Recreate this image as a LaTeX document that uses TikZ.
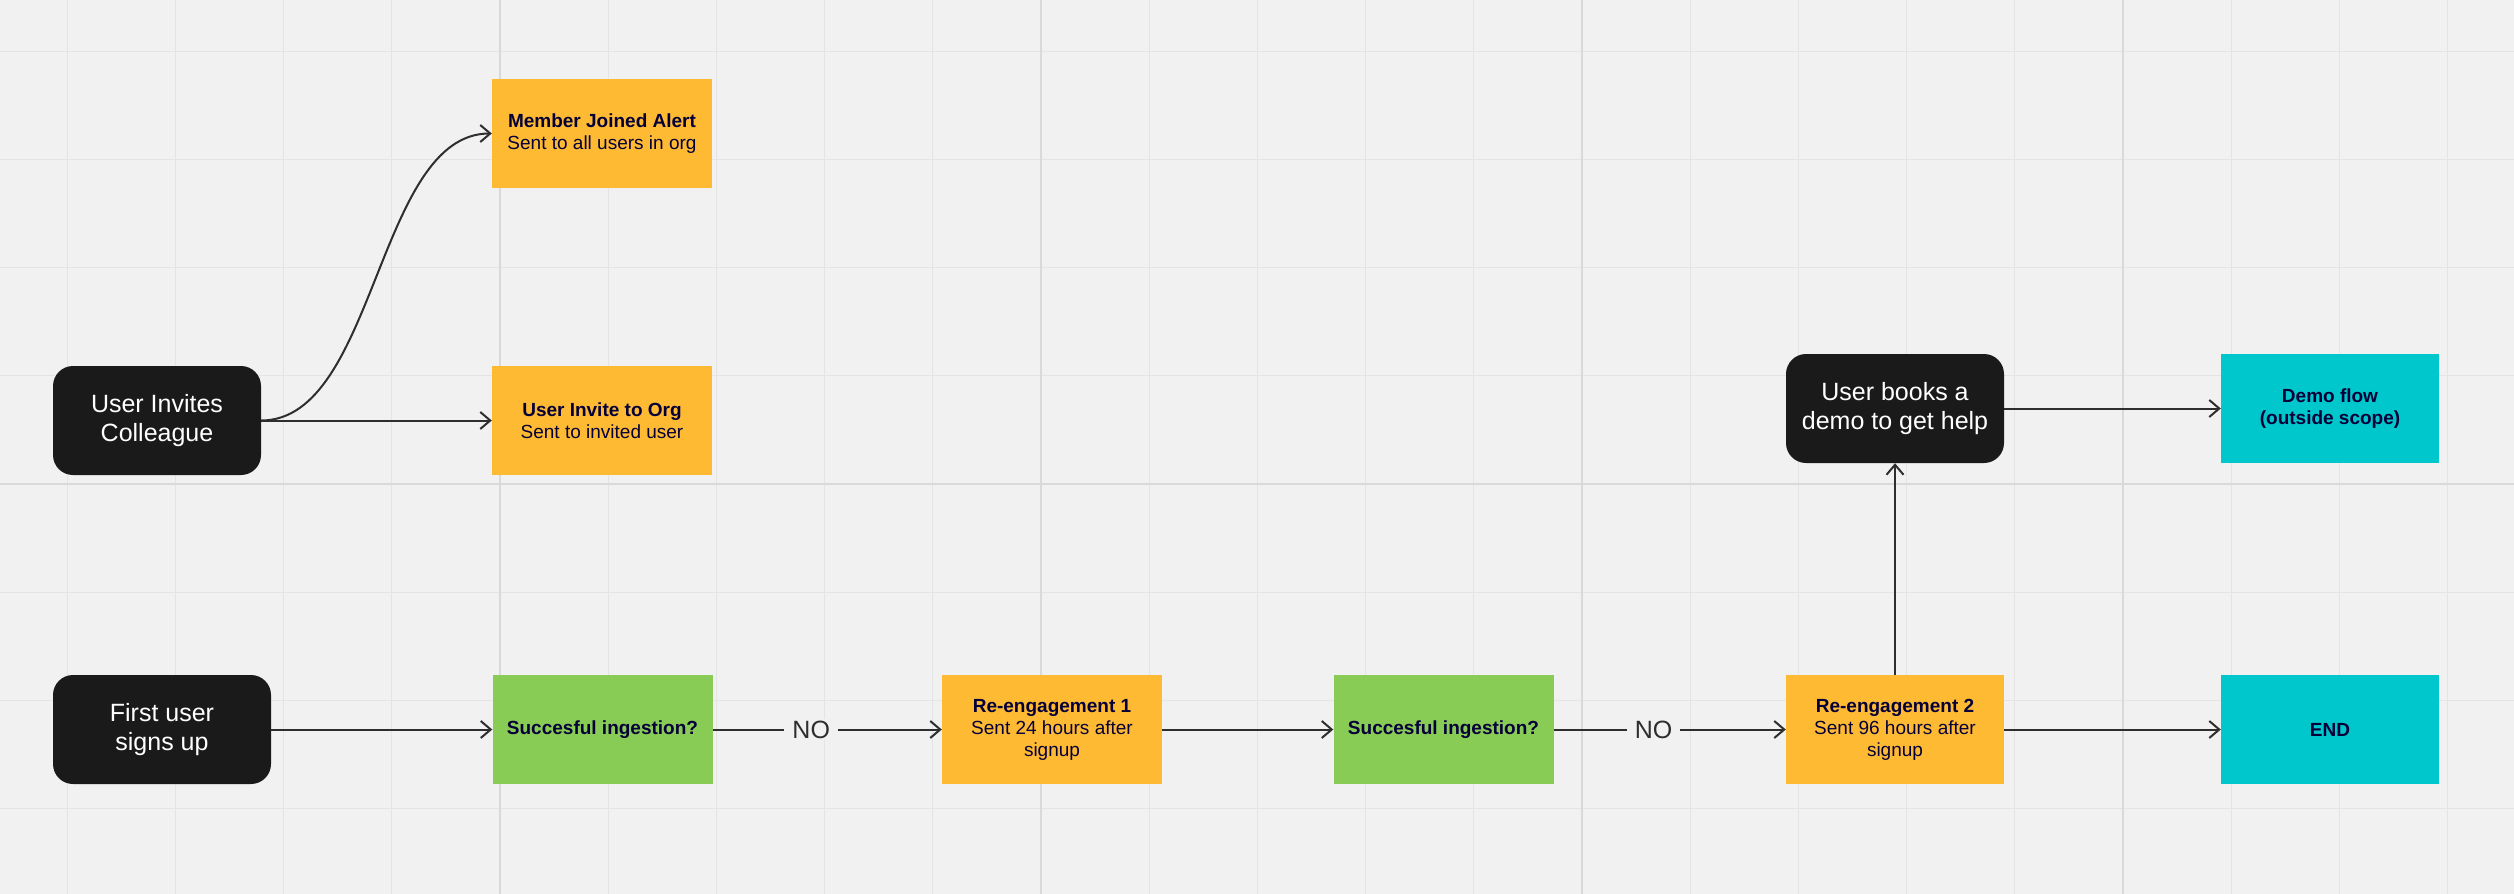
\documentclass[tikz,border=0pt]{standalone}
\usepackage{fontspec}
\setmainfont{Liberation Sans}
\usetikzlibrary{arrows.meta}
\definecolor{boardbg}{HTML}{F1F1F1}
\definecolor{gridminor}{HTML}{E4E4E4}
\definecolor{gridmajor}{HTML}{D9D9D9}
\definecolor{stepblack}{HTML}{1A1A1A}
\definecolor{mailyellow}{HTML}{FFBA33}
\definecolor{checkgreen}{HTML}{88CB55}
\definecolor{endcyan}{HTML}{00C7CC}
\definecolor{navytext}{HTML}{050038}
\definecolor{linkgray}{HTML}{2E2E2E}

\tikzset{
  trigger/.style={fill=stepblack, rounded corners=20pt, minimum width=218pt, minimum height=109pt,
    text=white, align=center, inner sep=0pt, font=\fontsize{25}{29}\selectfont},
  email/.style={fill=mailyellow, minimum width=220pt, minimum height=109pt,
    text=navytext, align=center, inner sep=0pt, font=\fontsize{19}{22}\selectfont},
  check/.style={email, fill=checkgreen},
  final/.style={email, fill=endcyan},
  link/.style={draw=linkgray, line width=2pt, -{Straight Barb[length=10pt,width=17pt,line width=2pt]}},
  answer/.style={fill=boardbg, text=linkgray, inner xsep=8pt, inner ysep=2pt, font=\fontsize{25}{29}\selectfont}
}

\begin{document}
\begin{tikzpicture}[x=1pt,y=1pt,yscale=-1,xscale=1]
\useasboundingbox (0,0) rectangle (2514,894);
%Board background and grid
\fill[boardbg] (0,0) rectangle (2514,894);
\foreach \k in {0,...,22} \draw[gridminor, line width=1.2pt] ({67.2+108.2*\k},0) -- ({67.2+108.2*\k},894);
\foreach \k in {0,...,7} \draw[gridminor, line width=1.2pt] (0,{51.2+108.2*\k}) -- (2514,{51.2+108.2*\k});
\foreach \k in {4,9,14,19} \draw[gridmajor, line width=2.2pt] ({67.2+108.2*\k},0) -- ({67.2+108.2*\k},894);
\draw[gridmajor, line width=2.2pt] (0,484) -- (2514,484);

%Invite branch
\node[trigger, minimum width=208pt] (invite) at (157,420.5) {User Invites\\Colleague};
\node[email] (joined) at (602,133.5) {\textbf{Member Joined Alert}\\Sent to all users in org};
\node[email] (inviteorg) at (602,420.5) {\textbf{User Invite to Org}\\Sent to invited user};

%Signup branch
\node[trigger] (signup) at (162,729.5) {First user\\signs up};
\node[check] (ingestA) at (602.5,729.5) {\textbf{Succesful ingestion?}};
\node[email] (reengA) at (1052,729.5) {\textbf{Re-engagement 1}\\Sent 24 hours after\\signup};
\node[check] (ingestB) at (1443.5,729.5) {\textbf{Succesful ingestion?}};
\node[email, minimum width=218pt] (reengB) at (1895,729.5) {\textbf{Re-engagement 2}\\Sent 96 hours after\\signup};
\node[trigger] (demo) at (1895,408.5) {User books a\\demo to get help};
\node[final, minimum width=218pt] (demoflow) at (2330,408.5) {\textbf{Demo flow}\\\textbf{(outside scope)}};
\node[final, minimum width=218pt] (finish) at (2330,729.5) {\textbf{END}};

%Connectors
\draw[link] (invite.east) .. controls ([xshift=115pt]invite.east) and ([xshift=-115pt]joined.west) .. (joined.west);
\draw[link] (invite) -- (inviteorg);
\draw[link] (signup) -- (ingestA);
\draw[link] (ingestA) -- node[answer, pos=0.43] {NO} (reengA);
\draw[link] (reengA) -- (ingestB);
\draw[link] (ingestB) -- node[answer, pos=0.43] {NO} (reengB);
\draw[link] (reengB) -- (finish);
\draw[link] (reengB) -- (demo);
\draw[link] (demo) -- (demoflow);
\end{tikzpicture}
\end{document}
